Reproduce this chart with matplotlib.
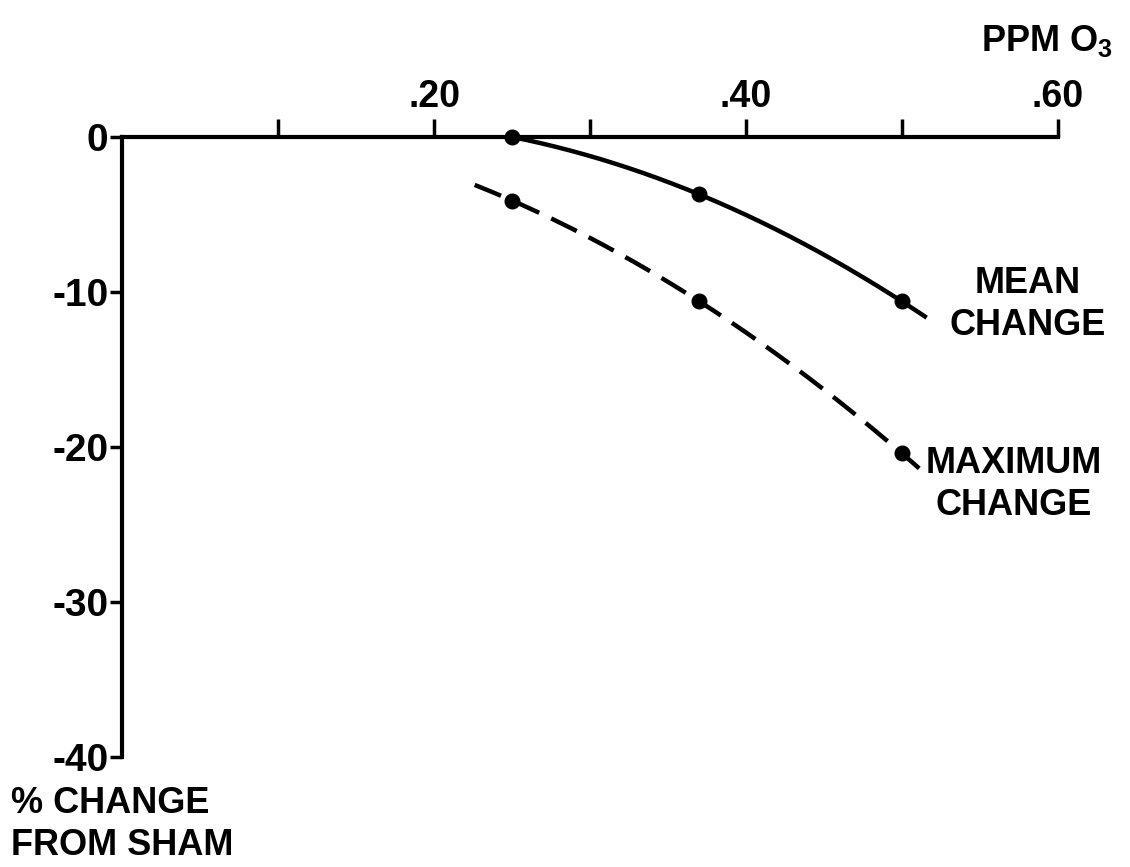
import numpy as np
import matplotlib
matplotlib.use("Agg")
import matplotlib.pyplot as plt

plt.rcParams['font.family'] = ['Liberation Sans', 'DejaVu Sans']
plt.rcParams['mathtext.default'] = 'regular'

# Data
ppm = [0.25, 0.37, 0.50]
mean_change = [0.0, -3.7, -10.6]
max_change = [-4.1, -10.6, -20.4]
mean_curve_range = [0.25, 0.516]
max_curve_range = [0.226, 0.517]

x_ticks = [0.1, 0.2, 0.3, 0.4, 0.5, 0.6]
x_ticklabels = ['', '.20', '', '.40', '', '.60']
y_ticks = [0, -10, -20, -30, -40]
y_ticklabels = ['0', '-10', '-20', '-30', '-40']

fig = plt.figure(figsize=(11.3, 8.67), dpi=100)
ax = fig.add_axes([0.1084, 0.1269, 0.8275, 0.7151])
ax.set_xlim(0, 0.6)
ax.set_ylim(-40, 0)

lw = 3.2
# smooth curves (quadratic through the three measured points)
for ys, rng, style in [(mean_change, mean_curve_range, '-'),
                       (max_change, max_curve_range, '--')]:
    coef = np.polyfit(ppm, ys, 2)
    xs = np.linspace(rng[0], rng[1], 200)
    line, = ax.plot(xs, np.polyval(coef, xs), color='black', lw=lw,
                    linestyle=style, clip_on=False, solid_capstyle='butt')
    if style == '--':
        line.set_dashes((6.4, 3.0))
        line.set_dash_capstyle('butt')
    ax.plot(ppm, ys, 'o', color='black', ms=10.5, clip_on=False, zorder=5)

# spines
for s in ['right', 'bottom']:
    ax.spines[s].set_visible(False)
for s in ['top', 'left']:
    ax.spines[s].set_linewidth(3)
ax.spines['left'].set_bounds(-40, 0)

ax.xaxis.set_ticks_position('top')
ax.set_xticks(x_ticks)
ax.set_xticklabels(x_ticklabels)
ax.tick_params(axis='x', direction='out', length=13, width=2.5, pad=3,
               labelsize=27)
ax.set_yticks(y_ticks)
ax.set_yticklabels(y_ticklabels)
ax.tick_params(axis='y', direction='out', length=9, width=2.5, pad=1,
               labelsize=28)
for lab in ax.get_xticklabels() + ax.get_yticklabels():
    lab.set_fontweight('bold')

ax.text(0.985, 0.953, 'PPM O$_3$', transform=fig.transFigure, ha='right',
        va='center', fontsize=26, fontweight='bold')
ax.text(0.581, -10.8, 'MEAN\nCHANGE', ha='center', va='center',
        fontsize=26, fontweight='bold', linespacing=1.25, clip_on=False)
ax.text(0.572, -22.4, 'MAXIMUM\nCHANGE', ha='center', va='center',
        fontsize=26, fontweight='bold', linespacing=1.25, clip_on=False)
fig.text(0.010, 0.049, '% CHANGE\nFROM SHAM', ha='left', va='center',
         fontsize=26, fontweight='bold', linespacing=1.25)

fig.savefig('out.png', dpi=100, facecolor='white')
